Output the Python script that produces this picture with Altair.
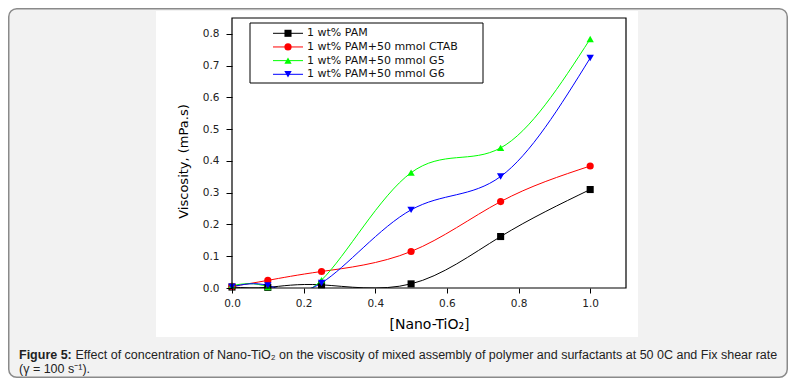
import altair as alt
import pandas as pd

# ---------------- data ----------------
series_names = [
    "1 wt% PAM",
    "1 wt% PAM+50 mmol CTAB",
    "1 wt% PAM+50 mmol G5",
    "1 wt% PAM+50 mmol G6",
]
x_conc = [0.0, 0.1, 0.25, 0.5, 0.75, 1.0]
visc_pam = [0.003, 0.002, 0.010, 0.013, 0.162, 0.310]
visc_ctab = [0.005, 0.024, 0.052, 0.115, 0.272, 0.384]
visc_g5 = [0.008, 0.003, 0.025, 0.363, 0.441, 0.784]
visc_g6 = [0.004, 0.008, 0.016, 0.246, 0.351, 0.724]

x_ticks = [0.0, 0.2, 0.4, 0.6, 0.8, 1.0]
y_ticks = [0.0, 0.1, 0.2, 0.3, 0.4, 0.5, 0.6, 0.7, 0.8]

x_title = "[Nano-TiO\u2082]"
y_title = "Viscosity, (mPa.s)"
caption_bold = ["Figure 5:"]
caption_line1 = ["Effect of concentration of Nano-TiO\u2082 on the viscosity of mixed assembly of polymer and surfactants at 50 0C and Fix shear rate"]
caption_line2 = ["(\u03b3 = 100 s\u207b\u00b9)."]

# ---------------- styles ----------------
colors = ["#000000", "#ff0000", "#00ff00", "#0000ff"]
marker_shapes = ["square", "circle", "triangle-up", "triangle-down"]
marker_sizes = [50, 55, 70, 70]

W, H = 394, 270

rows = []
for name, vals in zip(series_names, [visc_pam, visc_ctab, visc_g5, visc_g6]):
    for xv, yv in zip(x_conc, vals):
        rows.append({"series": name, "x": xv, "v": yv})
df = pd.DataFrame(rows)
leg_df = pd.DataFrame({"series": series_names})
one = pd.DataFrame({"k": [0]})

xscale = alt.Scale(domain=[0, 1.1], nice=False, zero=False)
yscale = alt.Scale(domain=[0, 0.85], nice=False, zero=False)
color_scale = alt.Scale(domain=series_names, range=colors)
shape_scale = alt.Scale(domain=series_names, range=marker_shapes)
size_scale = alt.Scale(domain=series_names, range=marker_sizes)
leg_y_scale = alt.Scale(type="point", domain=series_names, range=[15.3, 56.3], padding=0)

xaxis = alt.Axis(values=x_ticks, format=".1f", tickSize=5, labelPadding=5,
                 labelFlush=False, labelOverlap=False,
                 domain=False, grid=False, zindex=1, titleY=36,
                 titleBaseline="middle", titleFontSize=14,
                 titleFont="DejaVu Sans", titleFontWeight="normal")
yaxis = alt.Axis(values=y_ticks, format=".1f", tickSize=6, labelPadding=7,
                 labelFlush=False, labelOverlap=False,
                 domain=False, grid=False, zindex=1, titleX=-49, titleY=143,
                 titleBaseline="middle", titleAlign="center",
                 titleFontSize=13, titleFont="DejaVu Sans",
                 titleFontWeight="normal")

xenc = alt.X("x:Q", scale=xscale, title=x_title, axis=xaxis)

outer = alt.Chart(one).mark_rect(
    fill="#f2f2f2", stroke="#8a8a8a", strokeWidth=1.5, cornerRadius=8
).encode(x=alt.value(-223.25), x2=alt.value(555.25),
         y=alt.value(-9.25), y2=alt.value(359.25))

white = alt.Chart(one).mark_rect(fill="white").encode(
    x=alt.value(-76), x2=alt.value(406), y=alt.value(-7), y2=alt.value(319))

cap_font = 12.5
cap_b = alt.Chart(pd.DataFrame({"t": caption_bold})).mark_text(
    align="left", baseline="alphabetic", font="Liberation Sans",
    fontSize=cap_font, fontWeight="bold", color="#222"
).encode(x=alt.value(-213), y=alt.value(340.5), text="t:N")

cap_1 = alt.Chart(pd.DataFrame({"t": caption_line1})).mark_text(
    align="left", baseline="alphabetic", font="Liberation Sans",
    fontSize=cap_font, color="#222"
).encode(x=alt.value(-156.5), y=alt.value(340.5), text="t:N")

cap_2 = alt.Chart(pd.DataFrame({"t": caption_line2})).mark_text(
    align="left", baseline="alphabetic", font="Liberation Sans",
    fontSize=cap_font, color="#222"
).encode(x=alt.value(-213), y=alt.value(354.5), text="t:N")

base = alt.Chart(df)

lines = base.mark_line(interpolate="natural", strokeWidth=1, clip=True).encode(
    x=xenc,
    y=alt.Y("v:Q", scale=yscale, title=y_title, axis=yaxis),
    color=alt.Color("series:N", scale=color_scale, legend=None),
    detail="series:N",
)

points = base.mark_point(filled=True, opacity=1).encode(
    x=xenc,
    y=alt.Y("v:Q", scale=yscale, axis=None),
    color=alt.Color("series:N", scale=color_scale, legend=None),
    shape=alt.Shape("series:N", scale=shape_scale, legend=None),
    size=alt.Size("series:N", scale=size_scale, legend=None),
)

# ---- legend built from the series list ----
leg_box = alt.Chart(one).mark_rect(fill="white", stroke="black", strokeWidth=1).encode(
    x=alt.value(18), x2=alt.value(251), y=alt.value(5), y2=alt.value(65))

leg_y = alt.Y("series:N", scale=leg_y_scale, axis=None)

leg_lines = alt.Chart(leg_df).mark_rule(strokeWidth=1).encode(
    x=alt.value(41), x2=alt.value(71), y=leg_y,
    color=alt.Color("series:N", scale=color_scale, legend=None),
)

leg_marks = alt.Chart(leg_df).mark_point(filled=True, opacity=1).encode(
    x=alt.value(56), y=leg_y,
    color=alt.Color("series:N", scale=color_scale, legend=None),
    shape=alt.Shape("series:N", scale=shape_scale, legend=None),
    size=alt.Size("series:N", scale=size_scale, legend=None),
)

leg_text = alt.Chart(leg_df).mark_text(
    align="left", baseline="middle", font="DejaVu Sans", fontSize=11, color="#111"
).encode(x=alt.value(75), y=leg_y, text="series:N")

frame = alt.Chart(one).mark_rect(fill=None, stroke="black", strokeWidth=1.2).encode(
    x=alt.value(0), x2=alt.value(W), y=alt.value(0), y2=alt.value(H))

chart = alt.layer(
    outer, white, cap_b, cap_1, cap_2, lines, points,
    leg_box, leg_lines, leg_marks, leg_text, frame
).resolve_scale(y="independent").properties(
    width=W, height=H, padding=0, background="white"
).configure_view(strokeWidth=0).configure_axis(
    labelFont="DejaVu Sans", labelFontSize=10.5, labelColor="#222",
    tickColor="black", titleColor="black"
)

chart.save("out.html", embed_options={"renderer": "svg", "actions": False})
